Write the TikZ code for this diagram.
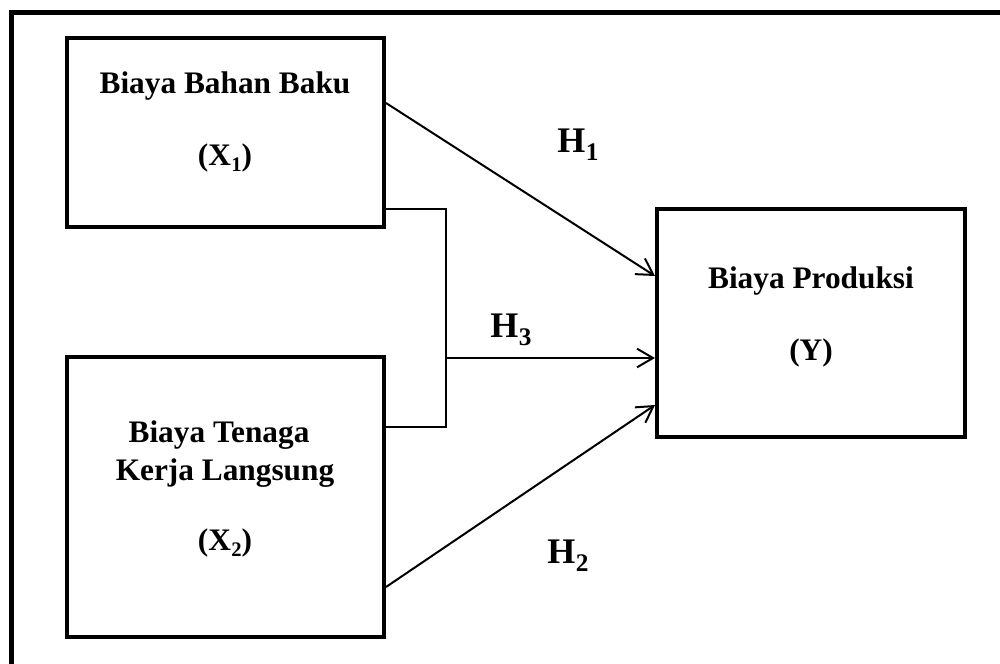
\documentclass[tikz,border=0pt]{standalone}
\usepackage[no-math]{fontspec}
\setmainfont{Liberation Serif}
\newcommand{\hlabtext}[2]{{\bfseries\fontsize{27}{30}\selectfont #1\kern0.5pt\raisebox{-6.4pt}{\fontsize{19}{19}\selectfont #2}}}
\newcommand{\xsubtext}[2]{{\bfseries #1\kern0.3pt\raisebox{-4.5pt}{\fontsize{15.5}{16}\selectfont #2}}}
\usetikzlibrary{arrows.meta}
\begin{document}
\begin{tikzpicture}[x=0.75pt,y=-0.75pt,
  varbox/.style={draw=black,line width=3pt,rectangle,inner sep=0pt,fill=none},
  boxtext/.style={anchor=base,inner sep=0pt,font=\fontsize{23.5}{28}\selectfont\bfseries},
  hlabel/.style={anchor=base west,inner sep=0pt},
  conn/.style={line width=1.5pt},
  bracket/.style={line width=1.1pt},
  arr/.style={conn,-{Straight Barb[length=12pt,width=14pt]}}]
\useasboundingbox (0,0) rectangle (1000,664);
\fill[white] (0,0) rectangle (1000,664);
% outer frame
\draw[line width=3.75pt] (11,670) -- (11,12.5) -- (1010,12.5);
% boxes
\node[varbox,minimum width=237.75pt,minimum height=141.75pt] (x1) at (225.5,132.5) {};
\node[varbox,minimum width=237.75pt,minimum height=210pt] (x2) at (225.5,497) {};
\node[varbox,minimum width=231pt,minimum height=171pt] (y) at (811,323) {};
% texts
\node[boxtext] (t1a) at (225,93) {Biaya Bahan Baku};
\node[boxtext] (t1b) at (225,165) {(\xsubtext{X}{1})};
\node[boxtext] (t2a) at (219,442) {Biaya Tenaga};
\node[boxtext] (t2b) at (225,480) {Kerja Langsung};
\node[boxtext] (t2c) at (225,550) {(\xsubtext{X}{2})};
\node[boxtext] (t3a) at (811,288) {Biaya Produksi};
\node[boxtext] (t3b) at (811,360) {(Y)};
% connectors
\coordinate (j) at (446,358);
\draw[bracket] (x1.east |- 0,209) -- (j |- 0,209) -- (j |- 0,427) -- (x2.east |- 0,427);
\draw[arr] (x1.east |- 0,103) -- (y.west |- 0,276);
\draw[arr] (j) -- (y.west |- j);
\draw[arr] (x2.east |- 0,587) -- (y.west |- 0,405);
% labels
\node[hlabel] (h1) at (557,152) {\hlabtext{H}{1}};
\node[hlabel] (h3) at (490,337) {\hlabtext{H}{3}};
\node[hlabel] (h2) at (547,563) {\hlabtext{H}{2}};
\end{tikzpicture}
\end{document}
